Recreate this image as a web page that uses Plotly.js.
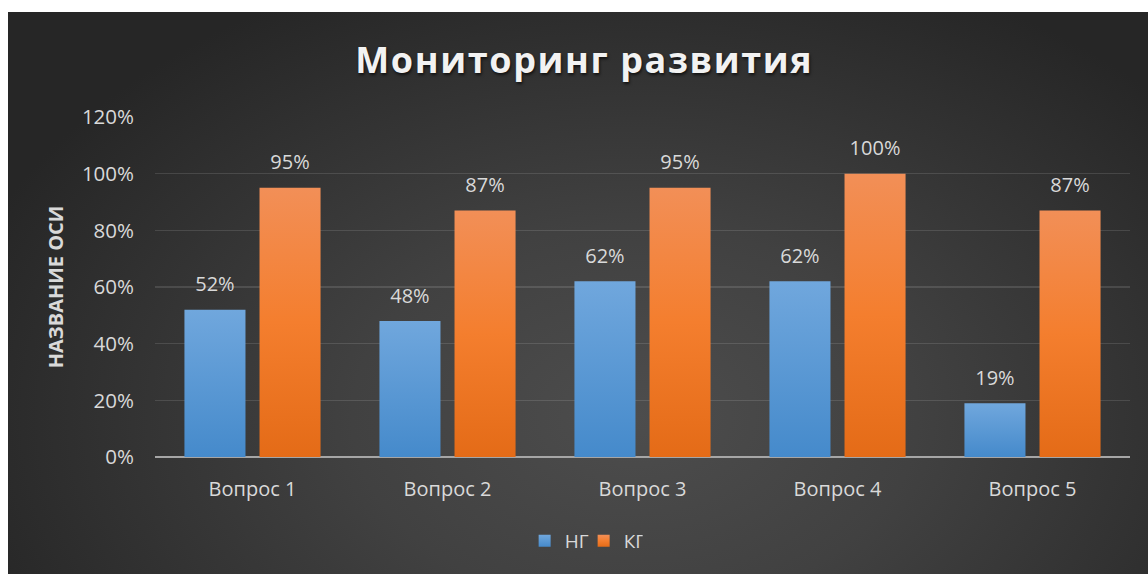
<!DOCTYPE html>
<html>
<head>
<meta charset="utf-8">
<script src="https://cdn.plot.ly/plotly-3.0.1.min.js"></script>
<style>
  html, body { margin: 0; padding: 0; background: #ffffff; }
  #wrap { position: relative; width: 1148px; height: 574px; overflow: hidden; }
  #bg {
    position: absolute; left: 8px; top: 12px; right: 0; bottom: 0;
    background: radial-gradient(ellipse 62% 85% at 55% 72%, #4d4d4d 0%, #414141 40%, #2f2f2f 80%, #262626 100%);
  }
  #chart { position: absolute; left: 0; top: 0; width: 1148px; height: 574px; }
  .gtitle { letter-spacing: 1.6px; }
  .barlayer .trace:nth-child(1) .point path { fill: url(#gBlue) !important; }
  .barlayer .trace:nth-child(2) .point path { fill: url(#gOrange) !important; }
  .legend .traces:nth-child(1) .legendpoints path { fill: url(#gBlue) !important; }
  .legend .traces:nth-child(2) .legendpoints path { fill: url(#gOrange) !important; }
</style>
</head>
<body>
<svg width="0" height="0" style="position:absolute">
  <defs>
    <linearGradient id="gBlue" x1="0" y1="0" x2="0" y2="1">
      <stop offset="0" stop-color="#70a7dd"/>
      <stop offset="1" stop-color="#458acb"/>
    </linearGradient>
    <linearGradient id="gOrange" x1="0" y1="0" x2="0" y2="1">
      <stop offset="0" stop-color="#f28f57"/>
      <stop offset="0.5" stop-color="#f47e2e"/>
      <stop offset="1" stop-color="#e46b17"/>
    </linearGradient>
  </defs>
</svg>
<div id="wrap">
  <div id="bg"></div>
  <div id="chart"></div>
</div>
<script>
const categories = ['Вопрос 1', 'Вопрос 2', 'Вопрос 3', 'Вопрос 4', 'Вопрос 5'];
const seriesNames = ['НГ', 'КГ'];
const ngValues = [0.52, 0.48, 0.62, 0.62, 0.19];
const kgValues = [0.95, 0.87, 0.95, 1.00, 0.87];
const yTickValues = [0, 0.2, 0.4, 0.6, 0.8, 1.0, 1.2];
const yTickLabels = ['0%', '20%', '40%', '60%', '80%', '100%', '120%'];

const FONT = '"Open Sans", "Noto Sans", sans-serif';
const TXT = '#d9d9d9';
const GAP = 0.23;

const barNG = {
  type: 'bar', name: seriesNames[0], x: categories, y: ngValues,
  marker: { color: '#5b9bd5' }, hoverinfo: 'none'
};
const barKG = {
  type: 'bar', name: seriesNames[1], x: categories, y: kgValues,
  marker: { color: '#f07f2e' }, hoverinfo: 'none'
};
function labelTrace(vals) {
  return {
    type: 'scatter', mode: 'markers+text', x: categories, y: vals,
    text: vals.map(v => Math.round(v * 100) + '%'),
    textposition: 'top center',
    textfont: { family: FONT, size: 20, color: TXT },
    marker: { size: 20, opacity: 0, color: 'rgba(0,0,0,0)' },
    showlegend: false, hoverinfo: 'none', cliponaxis: false
  };
}

const data = [barNG, barKG, labelTrace(ngValues), labelTrace(kgValues)];

const layout = {
  width: 1148, height: 574,
  paper_bgcolor: 'rgba(0,0,0,0)', plot_bgcolor: 'rgba(0,0,0,0)',
  margin: { l: 155, r: 18, t: 117, b: 117, pad: 0 },
  barmode: 'group', bargap: GAP, bargroupgap: 0.187,
  scattermode: 'group', scattergap: GAP,
  title: {
    text: 'Мониторинг развития',
    font: { family: FONT, size: 36, color: '#f2f2f2', weight: 700, shadow: '1px 2px 3px rgba(0,0,0,0.65)' },
    xref: 'container', x: 0.509, xanchor: 'center',
    yref: 'container', y: 0.895, yanchor: 'middle'
  },
  xaxis: {
    type: 'category', tickfont: { family: FONT, size: 20, color: TXT },
    showgrid: false, ticks: '', ticklabelstandoff: 18,
    showline: false, zeroline: false
  },
  yaxis: {
    range: [0, 1.2], tickvals: yTickValues, ticktext: yTickLabels,
    tickfont: { family: FONT, size: 20.5, color: TXT },
    showgrid: true, gridcolor: 'rgba(255,255,255,0.12)', gridwidth: 1.5,
    zeroline: true, zerolinecolor: '#a6a6a6', zerolinewidth: 2.5,
    showline: false, ticks: '', ticklabelstandoff: 20,
    title: {
      text: 'НАЗВАНИЕ ОСИ', standoff: 12,
      font: { family: FONT, size: 20, color: TXT, weight: 700 }
    }
  },
  showlegend: true,
  legend: {
    orientation: 'h', xref: 'container', x: 0.457, xanchor: 'left',
    yref: 'container', y: 0.0575, yanchor: 'middle',
    font: { family: FONT, size: 19, color: TXT },
    bgcolor: 'rgba(0,0,0,0)', itemwidth: 30, traceorder: 'normal',
    entrywidth: 14
  }
};

Plotly.newPlot('chart', data, layout, { displayModeBar: false, staticPlot: true });
</script>
</body>
</html>
